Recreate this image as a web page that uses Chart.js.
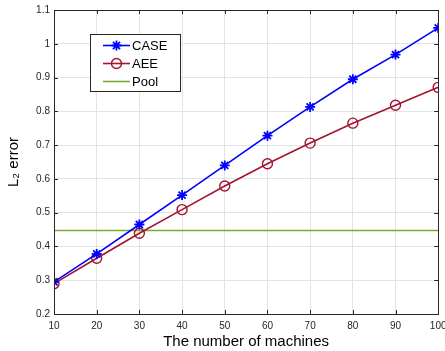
<!DOCTYPE html>
<html><head><meta charset="utf-8">
<script src="https://cdn.jsdelivr.net/npm/chart.js@4/dist/chart.umd.min.js"></script>
<style>html,body{margin:0;padding:0;background:#fff}#wrap{width:445px;height:351px}</style>
</head><body><div id="wrap"><canvas id="c" width="445" height="351"></canvas></div>
<script>
const machines = [10, 20, 30, 40, 50, 60, 70, 80, 90, 100];
const caseErr = [0.295, 0.378, 0.465, 0.552, 0.640, 0.728, 0.813, 0.895, 0.968, 1.047];
const aeeErr  = [0.290, 0.365, 0.439, 0.509, 0.579, 0.645, 0.706, 0.765, 0.818, 0.871];
const poolX = [10, 100];
const poolErr = [0.447, 0.447];
const xTicks = [10, 20, 30, 40, 50, 60, 70, 80, 90, 100];
const yTicks = [0.2, 0.3, 0.4, 0.5, 0.6, 0.7, 0.8, 0.9, 1, 1.1];
const seriesNames = ['CASE', 'AEE', 'Pool'];

const FONT = 'Liberation Sans, Arial, Helvetica, sans-serif';
const AX = '#262626';

const framePlugin = {
  id: 'frame',
  afterDraw(chart) {
    const ctx = chart.ctx, a = chart.chartArea;
    const xs = chart.scales.x, ys = chart.scales.y;
    ctx.save();
    ctx.strokeStyle = AX; ctx.lineWidth = 1;
    ctx.strokeRect(Math.round(a.left) + 0.5, Math.round(a.top) + 0.5, Math.round(a.right - a.left), Math.round(a.bottom - a.top));
    const L = 4;
    ctx.beginPath();
    xTicks.forEach(v => {
      const px = Math.round(xs.getPixelForValue(v)) + 0.5;
      ctx.moveTo(px, a.bottom); ctx.lineTo(px, a.bottom - L);
      ctx.moveTo(px, a.top); ctx.lineTo(px, a.top + L);
    });
    yTicks.forEach(v => {
      const py = Math.round(ys.getPixelForValue(v)) + 0.5;
      ctx.moveTo(a.left, py); ctx.lineTo(a.left + L, py);
      ctx.moveTo(a.right, py); ctx.lineTo(a.right - L, py);
    });
    ctx.stroke();

    // legend box
    const bx = 90.5, by = 34.5, bw = 90, bh = 57;
    ctx.fillStyle = '#fff';
    ctx.fillRect(bx, by, bw, bh);
    ctx.strokeStyle = AX; ctx.lineWidth = 1;
    ctx.strokeRect(bx, by, bw, bh);
    const rows = [45.5, 63.5, 81.5];
    chart.data.datasets.forEach((ds, i) => {
      const y = rows[i];
      ctx.strokeStyle = ds.borderColor; ctx.lineWidth = ds.borderWidth;
      ctx.beginPath(); ctx.moveTo(103, y); ctx.lineTo(130, y); ctx.stroke();
      if (ds.pointStyle && ds.pointRadius > 0) {
        ctx.strokeStyle = ds.borderColor;
        ctx.fillStyle = 'rgba(0,0,0,0)';
        ctx.lineWidth = ds.pointBorderWidth;
        Chart.helpers.drawPoint(ctx, {pointStyle: ds.pointStyle, radius: ds.pointRadius, borderWidth: ds.pointBorderWidth, rotation: 0}, 116.5, y);
      }
      ctx.fillStyle = '#000';
      ctx.font = '13px ' + FONT;
      ctx.textBaseline = 'middle'; ctx.textAlign = 'left';
      ctx.fillText(ds.label, 132, y + 0.5);
    });
    ctx.restore();
  }
};

new Chart(document.getElementById('c'), {
  type: 'line',
  data: {
    datasets: [
      { label: seriesNames[0], data: machines.map((m, i) => ({x: m, y: caseErr[i]})),
        borderColor: '#0000ff', backgroundColor: '#0000ff', borderWidth: 1.6,
        pointStyle: 'star', pointRadius: 5, pointBorderWidth: 1.8, pointBorderColor: '#0000ff' },
      { label: seriesNames[1], data: machines.map((m, i) => ({x: m, y: aeeErr[i]})),
        borderColor: '#a2142f', backgroundColor: 'rgba(0,0,0,0)', borderWidth: 1.6,
        pointStyle: 'circle', pointRadius: 5, pointBorderWidth: 1.4, pointBorderColor: '#a2142f',
        pointBackgroundColor: 'rgba(0,0,0,0)' },
      { label: seriesNames[2], data: poolX.map((m, i) => ({x: m, y: poolErr[i]})),
        borderColor: '#77ac30', backgroundColor: '#77ac30', borderWidth: 1.6, pointRadius: 0 }
    ]
  },
  options: {
    responsive: false, animation: false, devicePixelRatio: 1,
    layout: { padding: { top: 10, right: 4, left: 0, bottom: 0 } },
    plugins: { legend: { display: false }, tooltip: { enabled: false } },
    scales: {
      x: {
        type: 'linear', min: 10, max: 100,
        afterBuildTicks: s => { s.ticks = xTicks.map(v => ({value: v})); },
        afterFit: s => { s.height = 37; s.paddingLeft = 0; s.paddingRight = 0; },
        grid: { color: '#e3e3e3', drawTicks: false, lineWidth: 1 },
        border: { display: false },
        ticks: { color: AX, font: { size: 10, family: FONT }, padding: 6, maxRotation: 0, autoSkip: false },
        title: { display: true, text: 'The number of machines', color: '#000', font: { size: 15, family: FONT }, padding: { top: 0, bottom: 0 } }
      },
      y: {
        type: 'linear', min: 0.2, max: 1.1,
        afterBuildTicks: s => { s.ticks = yTicks.map(v => ({value: v})); },
        afterFit: s => { s.width = 54; s.paddingTop = 0; s.paddingBottom = 0; },
        grid: { color: '#e3e3e3', drawTicks: false, lineWidth: 1 },
        border: { display: false },
        ticks: { color: AX, font: { size: 10, family: FONT }, padding: 4, autoSkip: false,
                 callback: v => String(Math.round(v * 10) / 10) },
        title: { display: true, text: 'L₂ error', color: '#000', font: { size: 15, family: FONT }, padding: { top: 5, bottom: 0 } }
      }
    }
  },
  plugins: [framePlugin]
});
</script></body></html>
